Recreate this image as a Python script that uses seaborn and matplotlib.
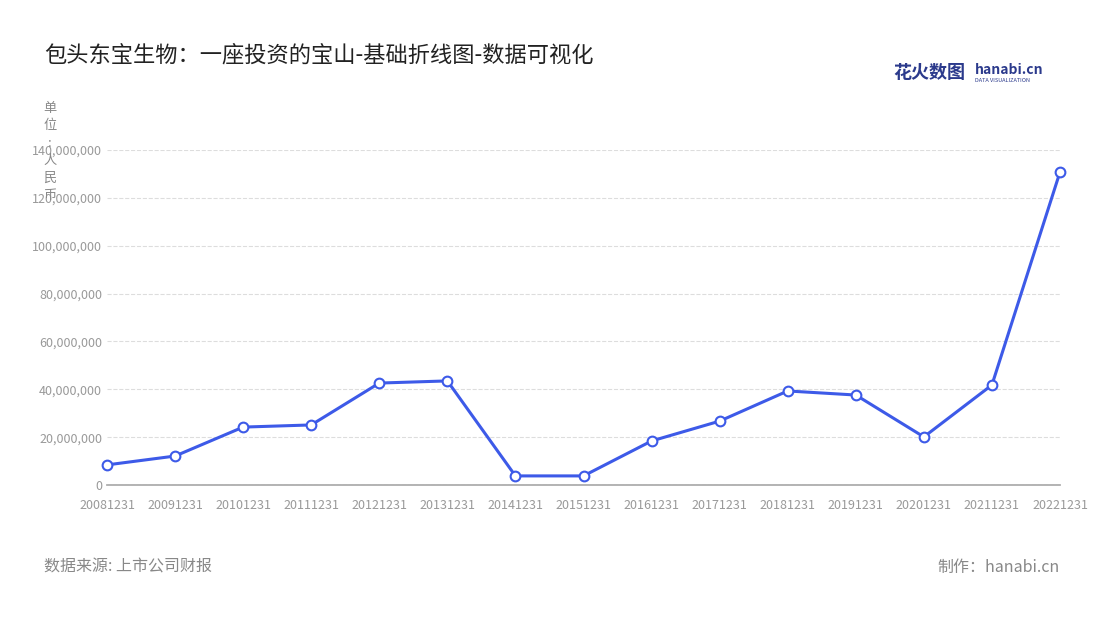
import matplotlib
matplotlib.use('Agg')
import matplotlib.pyplot as plt
import seaborn as sns
import pandas as pd

dates = ['20081231', '20091231', '20101231', '20111231', '20121231', '20131231',
         '20141231', '20151231', '20161231', '20171231', '20181231', '20191231',
         '20201231', '20211231', '20221231']
values = [8.4e6, 12.1e6, 24.2e6, 25.1e6, 42.6e6, 43.5e6, 3.8e6, 3.8e6,
          18.4e6, 26.7e6, 39.3e6, 37.6e6, 20.1e6, 41.8e6, 130.8e6]

df = pd.DataFrame({'date': dates, 'value': values, 'i': range(len(dates))})

sns.set_theme(style='white')
plt.rcParams['font.family'] = ['Noto Sans CJK SC', 'DejaVu Sans']

fig = plt.figure(figsize=(11, 6.2), dpi=100)
ax = fig.add_axes([107/1100, 1-485/620, (1060-107)/1100, 335/620])

sns.lineplot(data=df, x='i', y='value', ax=ax, color='#3d5ae8', linewidth=2.2,
             marker='o', markersize=7, markerfacecolor='white',
             markeredgecolor='#3d5ae8', markeredgewidth=1.5, zorder=5)
for ln in ax.lines:
    ln.set_clip_on(False)

ax.set_xlim(0, len(dates) - 1)
ax.set_ylim(0, 140e6)
ax.set_xticks(range(len(dates)))
ax.set_xticklabels(dates)
ax.set_yticks(range(0, 140000001, 20000000))
ax.yaxis.set_major_formatter(matplotlib.ticker.FuncFormatter(lambda v, p: f'{int(v):,}'))
ax.tick_params(axis='both', labelsize=9, colors='#999999', length=0)
ax.tick_params(axis='x', length=4, color='#999999', pad=6)
ax.grid(axis='y', color='#dddddd', linestyle='--', linewidth=0.8)
for s in ['top', 'right', 'left']:
    ax.spines[s].set_visible(False)
ax.spines['bottom'].set_color('#aaaaaa')
ax.set_xlabel('')
ax.set_ylabel('')

fig.text(44/1100, 1-55/620, '包头东宝生物：一座投资的宝山-基础折线图-数据可视化',
         fontsize=16, color='#222222', va='center')
fig.text(50/1100, 1-152/620, '单\n位\n:\n人\n民\n币', fontsize=9.5, color='#888888',
         va='center', ha='center', linespacing=1.45)
fig.text(44/1100, 1-567/620, '数据来源: 上市公司财报', fontsize=11.5, color='#888888', va='center')
fig.text(1060/1100, 1-567/620, '制作：hanabi.cn', fontsize=11.5, color='#888888',
         va='center', ha='right')
fig.text(893/1100, 1-73/620, '花火数图', fontsize=13, color='#2b3a8c', va='center',
         fontweight='bold')
fig.text(975/1100, 1-70/620, 'hanabi.cn', fontsize=10, color='#2b3a8c', va='center',
         fontweight='bold')
fig.text(975/1100, 1-80/620, 'DATA VISUALIZATION', fontsize=4, color='#2b3a8c', va='center')

fig.savefig('out.png', dpi=100)
